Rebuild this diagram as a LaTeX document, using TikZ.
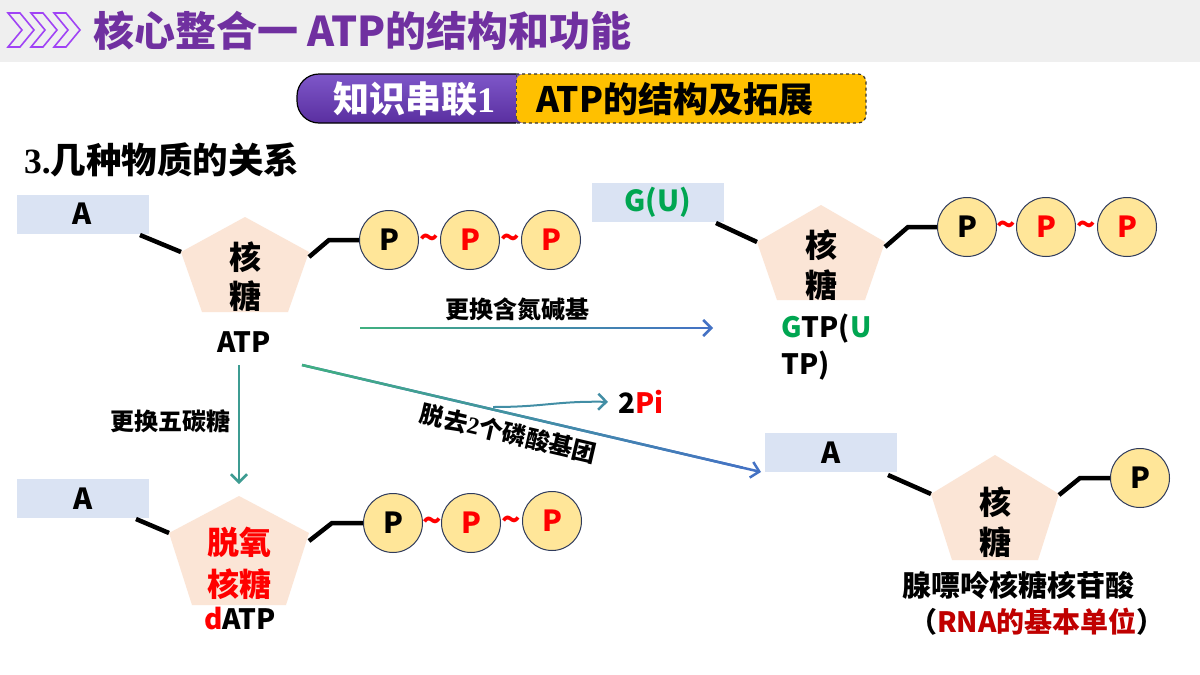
\documentclass[tikz,border=0pt]{standalone}
\usepackage{fontspec}
\setmainfont{Noto Sans CJK SC}
\newfontfamily\tnr{Liberation Serif}
\usetikzlibrary{arrows.meta,calc}
\definecolor{titlegray}{HTML}{EFEFEF}
\definecolor{titlepurple}{HTML}{7030A0}
\definecolor{chev}{HTML}{A043F5}
\definecolor{bpurpleT}{HTML}{7E57C9}
\definecolor{bpurpleB}{HTML}{5A2FA0}
\definecolor{byellow}{HTML}{FFC000}
\definecolor{boxblue}{HTML}{DAE3F3}
\definecolor{pentfill}{HTML}{FBE5D6}
\definecolor{pyellow}{HTML}{FFE699}
\definecolor{pborder}{HTML}{2F3B5C}
\definecolor{ggreen}{HTML}{00A651}
\definecolor{pred}{HTML}{FF0000}
\definecolor{dred}{HTML}{C00000}
\definecolor{agreen}{HTML}{40B080}
\definecolor{ablue}{HTML}{4472C4}
\definecolor{ateal}{HTML}{3E9C92}
\newcommand\fsz[1]{\fontsize{#1}{#1}\selectfont}
\tikzset{
 abox/.style={fill=boxblue, minimum width=132pt, minimum height=39pt, inner sep=0pt, font=\bfseries\fsz{29}},
 bond/.style={line width=4.5pt, line join=miter, black},
 pcirc/.style={circle, minimum size=59pt, inner sep=0pt, fill=pyellow, draw=pborder, line width=1pt, font=\bfseries\fsz{29}},
 tld/.style={text=pred, font=\bfseries\fsz{32}, inner sep=0pt},
 sugar/.style={font=\bfseries\fsz{32}, inner sep=0pt},
 molname/.style={font=\bfseries\fsz{28}, inner sep=0pt},
 arrowlab/.style={font=\bfseries\fsz{24}, inner sep=0pt, text=black},
 arr/.style={line width=2.5pt, -{Straight Barb[length=8pt,width=16pt,line width=2.5pt]}},
}
\newcommand\pent[7]{%
 \fill[pentfill] (#2,#3) -- (#2+#5,#4) -- (#2+#7,#6) -- (#2-#7,#6) -- (#2-#5,#4) -- cycle;
 \coordinate (#1-ul) at (#2-#5,#4);
 \coordinate (#1-ur) at (#2+#5,#4);}
\newcommand\gradseg[4]{%
 \foreach \i in {0,...,39}{%
  \pgfmathsetmacro\pa{100-2.5*\i}%
  \pgfmathsetmacro\fa{\i*0.024}%
  \pgfmathsetmacro\fb{(\i+1)*0.024}%
  \draw[line width=2.5pt, color=#3!\pa!#4] ($(#1)!\fa!(#2)$) -- ($(#1)!\fb!(#2)$);
 }}
\begin{document}
\begin{tikzpicture}[x=1pt,y=-1pt]
\useasboundingbox (0,0) rectangle (1200,675);
\fill[white] (0,0) rectangle (1200,675);
\fill[titlegray] (0,0) rectangle (1200,62);
% chevrons
\foreach \o in {8,31,54}{
 \draw[chev, line width=1.6pt, line join=miter] (\o,13) -- (\o+12,13) -- (\o+26,30) -- (\o+12,47) -- (\o,47) -- (\o+14,30) -- cycle;}
\node[anchor=west, inner sep=0pt, font=\bfseries\fsz{41}, text=titlepurple] (title) at (93,31) {核心整合一 ATP的结构和功能};
% banner
\shade[top color=bpurpleT, bottom color=bpurpleB, rounded corners=22pt] (297,74) rectangle (540,123);
\fill[byellow, rounded corners=8pt] (516,74) rectangle (866,123);
\draw[black, line width=1.2pt, rounded corners=22pt] (516,74) -- (297,74) -- (297,123) -- (516,123);
\draw[black!80, line width=1.2pt, dashed, rounded corners=8pt] (516,74) -- (866,74) -- (866,123) -- (516,123);
\draw[black!70, line width=1pt, dashed] (516,74) -- (516,123);
\node[inner sep=0pt, font=\bfseries\fsz{36}, text=white] (ban1) at (414,99) {知识串联{\tnr 1}};
\node[inner sep=0pt, font=\bfseries\fsz{35}] (ban2) at (675,99) {ATP的结构及拓展};
\node[anchor=west, inner sep=0pt, font=\bfseries\fsz{35.5}] (head) at (24,160) {{\tnr 3.}几种物质的关系};
% ===== ATP =====
\node[abox] (atpA) at (82.5,214) {A};
\pent{pa}{245}{217}{252}{64}{312}{43}
\coordinate (pa-bs) at (140,235);
\draw[bond] (pa-bs) -- (pa-ul);
\node[sugar] (pa-k) at (245,257) {核};
\node[sugar] (pa-t) at (245,296) {糖};
\node[molname] (atpname) at (244,342) {ATP};
\node[pcirc] (pa1) at (389,240) {P};
\node[pcirc, text=pred] (pa2) at (470,240) {P};
\node[pcirc, text=pred] (pa3) at (551,240) {P};
\node[tld] (pa-w1) at ($(pa1)!0.5!(pa2)+(0,2)$) {\textasciitilde};
\node[tld] (pa-w2) at ($(pa2)!0.5!(pa3)+(0,2)$) {\textasciitilde};
\draw[bond] ($(pa-ur)+(0,5)$) -- ($(pa1.west)+(-30,0)$) -- (pa1.west);
% ===== GTP =====
\node[abox] (gtpA) at (657.5,202.5) {\textcolor{ggreen}{G(U)}};
\pent{pg}{821}{205}{242}{64}{300}{44}
\coordinate (pg-bs) at (716,223);
\draw[bond] (pg-bs) -- (pg-ul);
\node[sugar] (pg-k) at (821,245) {核};
\node[sugar] (pg-t) at (821,285) {糖};
\node[molname, anchor=west] (gtpname1) at (781,329) {\textcolor{ggreen}{G}TP(\textcolor{ggreen}{U}};
\node[molname, anchor=west] (gtpname2) at (781,366) {TP)};
\node[pcirc] (pg1) at (967,227) {P};
\node[pcirc, text=pred] (pg2) at (1046,227) {P};
\node[pcirc, text=pred] (pg3) at (1127,227) {P};
\node[tld] (pg-w1) at ($(pg1)!0.5!(pg2)+(0,2)$) {\textasciitilde};
\node[tld] (pg-w2) at ($(pg2)!0.5!(pg3)+(0,2)$) {\textasciitilde};
\draw[bond] ($(pg-ur)+(0,5)$) -- ($(pg1.west)+(-29,0)$) -- (pg1.west);
% ===== dATP =====
\node[abox] (datpA) at (83,498.5) {A};
\pent{pd}{239}{496}{533}{70}{605}{47}
\coordinate (pd-bs) at (136,519);
\draw[bond] (pd-bs) -- (pd-ul);
\node[sugar, text=pred] (pd-k) at (239,542) {脱氧};
\node[sugar, text=pred] (pd-t) at (239,584) {核糖};
\node[molname] (datpname) at (240,619) {\textcolor{pred}{d}ATP};
\node[pcirc] (pd1) at (393,523) {P};
\node[pcirc, text=pred] (pd2) at (471,523) {P};
\node[pcirc, text=pred] (pd3) at (552,521) {P};
\node[tld] (pd-w1) at ($(pd1)!0.5!(pd2)+(0,2)$) {\textasciitilde};
\node[tld] (pd-w2) at ($(pd2)!0.5!(pd3)+(0,2)$) {\textasciitilde};
\draw[bond] ($(pd-ur)+(0,8)$) -- ($(pd1.west)+(-31,0)$) -- (pd1.west);
% ===== AMP =====
\node[abox] (ampA) at (831,452.5) {A};
\pent{pm}{995}{455}{494}{64}{560}{43}
\coordinate (pm-bs) at (888,475);
\draw[bond] (pm-bs) -- (pm-ul);
\node[sugar] (pm-k) at (995,502) {核};
\node[sugar] (pm-t) at (995,542) {糖};
\node[pcirc] (pm1) at (1140,478) {P};
\draw[bond] ($(pm-ur)+(0,1)$) -- ($(pm1.west)+(-30,0)$) -- (pm1.west);
\node[inner sep=0pt, font=\bfseries\fsz{29}] (ampname) at (1018,585) {腺嘌呤核糖核苷酸};
\node[inner sep=0pt, font=\bfseries\fsz{28}] (ampnote) at (1037,622) {（\textcolor{dred}{RNA的基本单位}）};
% ===== arrows =====
\coordinate (h1) at (360,328);
\coordinate (h2) at (713,328);
\draw[arr, ablue] (h1) -- node[pos=0.445, above=6pt, arrowlab] (hlab) {更换含氮碱基} (h2);
\gradseg{h1}{h2}{agreen}{ablue}
\coordinate (v1) at (239,365);
\coordinate (v2) at (239,484);
\draw[arr, ateal] (v1) -- node[pos=0.47, left=7pt, arrowlab] (vlab) {更换五碳糖} (v2);
\coordinate (d1) at (302,365);
\coordinate (d2) at (761,472);
\draw[arr, ablue] (d1) -- node[pos=0.46, sloped, below=7pt, arrowlab] (dlab) {脱去{\tnr 2}个磷酸基团} (d2);
\gradseg{d1}{d2}{agreen}{ablue}
\node[anchor=west, inner sep=0pt, font=\bfseries\fsz{28}] (twopi) at (618,402) {2\textcolor{pred}{Pi}};
\coordinate (c1) at (493,407);
\draw[arr, line width=2pt, agreen!45!ablue, shorten >=10pt] (c1) .. controls (545,407) and (555,401) .. (twopi.west);
\end{tikzpicture}
\end{document}
